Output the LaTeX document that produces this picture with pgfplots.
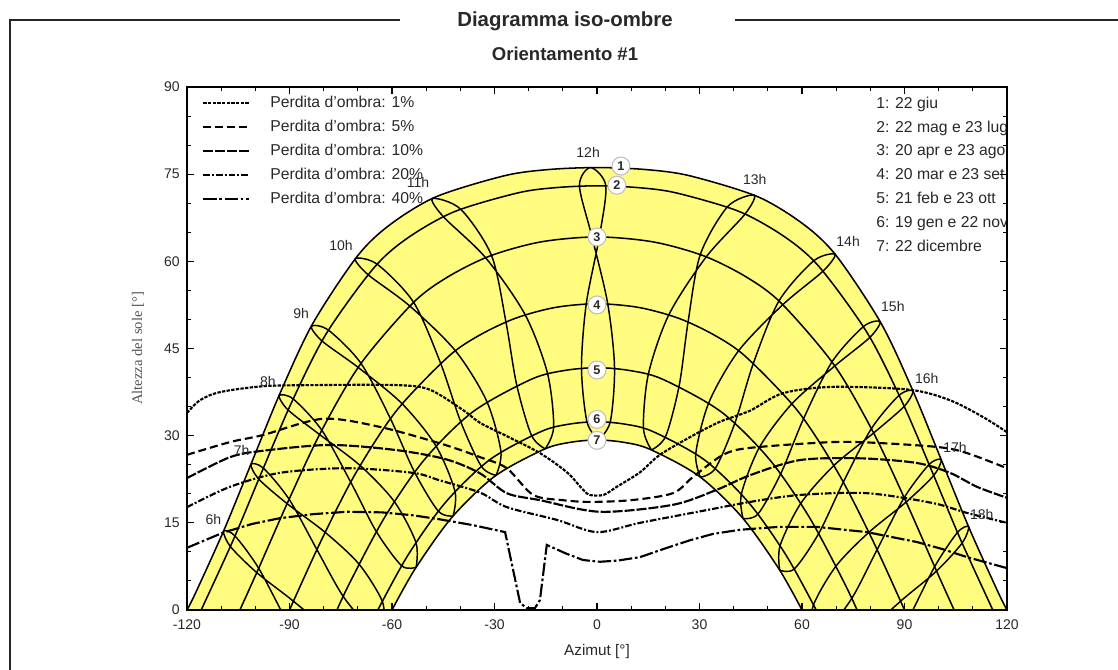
\documentclass[border=0pt]{standalone}
\usepackage{fontspec}
\setmainfont{Liberation Sans}
\newfontfamily\serifnt{Liberation Serif}
\usepackage{pgfplots}
\pgfplotsset{compat=1.18}
\definecolor{yel}{RGB}{255,252,128}
\definecolor{txt}{RGB}{40,40,40}
\begin{document}
\begin{tikzpicture}[x=0.75pt,y=0.75pt]
\path[use as bounding box] (0,0) rectangle (1118,670);
\coordinate (axpos) at (187,60);
\draw[line width=1.3pt, black!85] (400,650) -- (10,650) -- (10,-10);
\draw[line width=1.3pt, black!85] (735,650) -- (1130,650);
\node[font=\bfseries\fontsize{15.3}{18}\selectfont, text=txt] at (565,649) {Diagramma iso-ombre};
\node[font=\bfseries\fontsize{13.9}{16}\selectfont, text=txt] at (565,616) {Orientamento \#1};
\begin{axis}[
  at={(axpos)}, anchor=south west, scale only axis,
  width=615pt, height=392.25pt,
  xmin=-120, xmax=120, ymin=0, ymax=90,
  xtick={-120,-90,...,120}, ytick={0,15,...,90},
  minor x tick num=2, minor y tick num=2,
  tick align=inside, xtick pos=both, ytick pos=both,
  major tick length=5pt, minor tick length=3pt,
  axis line style={line width=1.8pt},
  tick style={line width=0.8pt, black},
  axis on top,
  /pgf/number format/assume math mode=true,
  tick label style={font=\fontsize{10.5}{12}\selectfont, text=txt},
  xticklabel style={yshift=-4pt},
  yticklabel style={xshift=-2pt},
  xlabel={Azimut [°]}, ylabel={\serifnt Altezza del sole [°]},
  xlabel style={at={(axis description cs:0.5,-0.0803)}, anchor=center, font=\fontsize{11.5}{13}\selectfont, text=txt},
  ylabel style={at={(axis description cs:-0.0598,0.5)}, anchor=center, font=\fontsize{11}{13}\selectfont, text=txt!80},
  legend style={draw=none, fill=none, at={(axis description cs:0.0183,0.985)}, anchor=north west, inner sep=0pt,
    font=\fontsize{11.8}{14}\selectfont, text=txt, row sep=6.5pt,
    nodes={inner sep=0pt, text height=9pt, text depth=2.5pt},
    /tikz/every odd column/.style={column sep=15pt}},
  legend cell align=left,
  legend image code/.code={\draw[#1] (0pt,0pt) -- (34.5pt,0pt);},
  hl/.style={black, line width=1.1pt, smooth, forget plot},
  sp/.style={black, line width=1.15pt, smooth, forget plot},
]
% yellow band between 22 June and 22 December
\addplot[fill=yel, draw=none, smooth, forget plot] coordinates {(-120,0) (-117.45,2.99) (-109.03,13.95) (-101.02,25.47) (-92.77,37.30) (-83.26,49.22) (-70.21,60.84) (-60.67,66.27) (-47.1,71.11) (-27.02,74.74) (-14.13,75.80) (0,76.14) (14.13,75.80) (27.02,74.74) (47.1,71.11) (60.67,66.27) (70.21,60.84) (83.26,49.22) (92.77,37.30) (101.02,25.47) (109.03,13.95) (117.45,2.99) (120,0)} \closedcycle;
\addplot[fill=white, draw=none, smooth, forget plot] coordinates {(-60,0) (-53.20,7.11) (-42.44,15.96) (-29.90,23.02) (-15.55,27.64) (-7.86,28.85) (0,29.26) (7.86,28.85) (15.55,27.64) (29.90,23.02) (42.44,15.96) (53.20,7.11) (60,0)} \closedcycle;
% sun paths
\addplot[sp] coordinates {(-120,0) (-117.45,2.99) (-109.03,13.95) (-101.02,25.47) (-92.77,37.30) (-83.26,49.22) (-70.21,60.84) (-60.67,66.27) (-47.1,71.11) (-27.02,74.74) (-14.13,75.80) (0,76.14) (14.13,75.80) (27.02,74.74) (47.1,71.11) (60.67,66.27) (70.21,60.84) (83.26,49.22) (92.77,37.30) (101.02,25.47) (109.03,13.95) (117.45,2.99) (120,0)};
\addplot[sp] coordinates {(-115.85,0) (-106.40,12.13) (-98.10,23.78) (-89.42,35.68) (-79.25,47.54) (-65.25,58.91) (-55.24,64.09) (-41.64,68.57) (-23.07,71.79) (-11.90,72.69) (0,73.0) (11.90,72.69) (23.07,71.79) (41.64,68.57) (55.24,64.09) (65.25,58.91) (79.25,47.54) (89.42,35.68) (98.10,23.78) (106.40,12.13) (115.85,0)};
\addplot[sp] coordinates {(-104.52,0) (-99.20,6.94) (-90.30,18.82) (-80.75,30.70) (-69.34,42.22) (-54.03,52.74) (-43.88,57.24) (-31.43,60.90) (-16.56,63.33) (0,64.2) (16.56,63.33) (31.43,60.90) (43.88,57.24) (54.03,52.74) (69.34,42.22) (80.75,30.70) (90.30,18.82) (99.20,6.94) (104.52,0)};
\addplot[sp] coordinates {(-90,0) (-80.78,11.88) (-70.72,23.44) (-58.78,34.23) (-43.61,43.55) (-34.35,47.30) (-23.85,50.21) (-12.26,52.06) (0,52.7) (12.26,52.06) (23.85,50.21) (34.35,47.30) (43.61,43.55) (58.78,34.23) (70.72,23.44) (80.78,11.88) (90,0)};
\addplot[sp] coordinates {(-76.12,0) (-72.13,4.96) (-62.15,15.95) (-50.50,25.89) (-36.35,34.10) (-19.28,39.69) (-9.80,41.19) (0,41.7) (9.80,41.19) (19.28,39.69) (36.35,34.10) (50.50,25.89) (62.15,15.95) (72.13,4.96) (76.12,0)};
\addplot[sp] coordinates {(-64.15,0) (-55.40,9.37) (-44.37,18.50) (-31.40,25.85) (-16.40,30.70) (-8.30,31.97) (0,32.4) (8.30,31.97) (16.40,30.70) (31.40,25.85) (44.37,18.50) (55.40,9.37) (64.15,0)};
\addplot[sp] coordinates {(-60,0) (-53.20,7.11) (-42.44,15.96) (-29.90,23.02) (-15.55,27.64) (-7.86,28.85) (0,29.26) (7.86,28.85) (15.55,27.64) (29.90,23.02) (42.44,15.96) (53.20,7.11) (60,0)};
% hour lines (analemmas)
\addplot[hl] coordinates {(0.42,29.26) (-2.94,32.4) (-4.54,41.7) (-3.14,52.7) (0.68,64.2) (2.57,73.0) (-1.92,76.14) (-5.13,73.0) (-1.46,64.2) (3.14,52.7) (5.13,41.7) (3.89,32.4) (0.42,29.26)};
\addplot[hl] coordinates {(15.95,27.55) (13.59,31.30) (15.04,40.60) (21.04,50.82) (31.98,60.78) (43.34,68.15) (46.0,71.40) (38.24,69.42) (30.24,61.17) (26.66,49.60) (24.07,38.66) (20.11,29.91) (15.95,27.55)};
\addplot[hl] coordinates {(-15.15,27.73) (-19.21,30.10) (-23.52,38.78) (-26.66,49.60) (-30.88,61.02) (-39.94,68.99) (-48.2,70.82) (-45.04,67.72) (-32.62,60.63) (-21.04,50.82) (-14.49,40.72) (-12.69,31.49) (-15.15,27.73)};
\addplot[hl] coordinates {(30.26,22.86) (28.92,26.95) (32.76,35.72) (41.42,44.59) (54.40,52.55) (66.18,58.33) (69.67,61.21) (63.40,60.07) (53.24,53.16) (45.80,42.51) (40.41,32.26) (34.67,24.40) (30.26,22.86)};
\addplot[hl] coordinates {(-29.54,23.18) (-33.88,24.75) (-39.94,32.48) (-45.80,42.51) (-53.66,52.93) (-64.32,59.49) (-70.75,60.47) (-67.10,57.75) (-54.82,52.32) (-41.42,44.59) (-32.29,35.94) (-28.13,27.30) (-29.54,23.18)};
\addplot[hl] coordinates {(42.75,15.75) (42.26,19.97) (47.56,28.01) (57.09,35.52) (69.60,42.00) (79.86,46.91) (82.90,49.62) (78.02,48.79) (68.78,42.70) (60.47,32.94) (53.82,23.50) (47.16,16.55) (42.75,15.75)};
\addplot[hl] coordinates {(-42.13,16.17) (-46.48,17.03) (-53.44,23.77) (-60.47,32.94) (-69.08,42.44) (-78.64,48.17) (-83.62,48.82) (-80.48,46.29) (-69.90,41.74) (-57.09,35.52) (-47.18,28.28) (-41.58,20.45) (-42.13,16.17)};
\addplot[hl] coordinates {(53.47,6.86) (53.60,11.11) (59.69,18.38) (69.35,24.87) (80.95,30.46) (89.91,35.04) (92.48,37.70) (88.44,36.95) (80.31,31.21) (72.09,22.01) (64.93,13.21) (57.78,7.08) (53.47,6.86)};
\addplot[hl] coordinates {(-52.93,7.36) (-57.20,7.63) (-64.61,13.52) (-72.09,22.01) (-80.55,30.94) (-88.93,36.32) (-93.06,36.90) (-90.40,34.41) (-81.19,30.19) (-69.35,24.87) (-59.37,18.69) (-53.02,11.66) (-52.93,7.36)};
\addplot[hl] coordinates {(62.78,-3.27) (63.38,0.93) (69.97,7.57) (79.58,13.37) (90.48,18.58) (98.55,23.15) (100.75,25.86) (97.21,25.04) (89.91,19.34) (81.98,10.39) (74.58,2.01) (67.07,-3.50) (62.78,-3.27)};
\addplot[hl] coordinates {(-62.32,-2.71) (-66.56,-2.89) (-74.29,2.35) (-81.98,10.39) (-90.12,19.06) (-97.65,24.41) (-101.29,25.08) (-98.99,22.52) (-90.69,18.30) (-79.58,13.37) (-69.68,7.91) (-62.87,1.54) (-62.32,-2.71)};
\addplot[hl] coordinates {(71.2,-14.25) (72.04,-10.12) (79.17,-3.93) (88.85,1.51) (99.38,6.70) (106.85,11.52) (108.76,14.33) (105.51,13.35) (98.82,7.45) (91.15,-1.51) (83.52,-9.71) (75.67,-14.79) (71.2,-14.25)};
\addplot[hl] coordinates {(-70.73,-13.65) (-75.16,-14.14) (-83.25,-9.35) (-91.15,-1.51) (-99.02,7.18) (-105.95,12.74) (-109.30,13.57) (-107.29,10.91) (-99.58,6.43) (-88.85,1.51) (-78.90,-3.57) (-71.53,-9.47) (-70.73,-13.65)};
% iso-shade curves
\addplot[black, line width=1.6pt, smooth, dash pattern=on 2.5pt off 1pt] coordinates {(-120,33.9) (-116.2,36.1) (-110.3,37.5) (-97.8,38.5) (-83.1,38.7) (-58.5,38.7) (-48.9,37.9) (-39.2,34.4) (-34.2,32.2) (-26,29.8) (-16.7,27.0) (-8.8,23.7) (-4.1,20.7) (-2.1,19.8) (1.9,19.8) (5.8,21.2) (12.6,23.7) (18.4,26.7) (28,30.0) (36,32.4) (44.8,34.3) (54.4,37.3) (69,38.4) (91.6,37.9) (103.3,36.1) (113,33.2) (120,30.6)};
\addlegendentry{Perdita d'ombra: 1\%}
\addplot[black, line width=1.6pt, smooth, dash pattern=on 6pt off 3pt] coordinates {(-120,26.7) (-107.4,28.9) (-97.8,30.1) (-80.2,32.9) (-63.5,31.5) (-45,28.5) (-34.2,26.3) (-26.4,24.4) (-18.7,19.8) (-10,18.9) (-2.1,18.6) (10,18.9) (22.2,20.1) (28.1,22.9) (36.9,26.7) (44.8,27.9) (69,28.9) (83.7,28.7) (100.4,28.0) (108.3,27.0) (120,24.4)};
\addlegendentry{Perdita d'ombra: 5\%}
\addplot[black, line width=1.6pt, smooth, dash pattern=on 7.5pt off 1.5pt] coordinates {(-120,22.7) (-107.4,26.3) (-97.8,27.4) (-78.2,28.4) (-58.5,27.5) (-44,25.9) (-34.2,23.5) (-26.4,20.1) (-16.7,18.9) (0.9,16.9) (22.2,18.1) (35.1,20.7) (44.8,23.2) (59.4,25.8) (77,26.1) (93.6,25.3) (103.3,23.6) (111.2,21.2) (120,19.3)};
\addlegendentry{Perdita d'ombra: 10\%}
\addplot[black, line width=1.6pt, smooth, dash pattern=on 5pt off 1.5pt on 1.5pt off 1.5pt] coordinates {(-120,17.7) (-107.4,21.2) (-92.8,23.6) (-73.2,24.4) (-53.9,23.6) (-46,22.3) (-34.2,20.2) (-26.4,17.7) (-11.7,15.5) (0,13.4) (12.6,15.0) (32.2,17.2) (44.8,18.6) (59.4,19.8) (79,20.1) (98.3,18.4) (108.3,16.7) (120,15.0)};
\addlegendentry{Perdita d'ombra: 20\%}
\addplot[black, line width=1.6pt, dash pattern=on 10pt off 2pt on 2pt off 2pt] coordinates {(-120,10.7) (-109.5,13.3) (-101,14.8) (-92.8,15.8) (-83,16.5) (-73.2,16.9) (-63,16.8) (-53.9,16.3) (-46,15.6) (-36.3,14.6) (-26.9,13.4) (-22.5,1.2) (-20.5,0.3) (-18.2,0.3) (-16.7,1.7) (-14.7,11.2) (-9,9.7) (-4.1,8.6) (0.9,8.3) (6,8.5) (12.6,9.1) (20,10.6) (27.2,12.0) (34,13.1) (41.8,13.8) (53,14.3) (64.4,14.3) (79,13.4) (93.6,11.7) (101,10.5) (108.3,9.1) (120,7.2)};
\addlegendentry{Perdita d'ombra: 40\%}
% hour labels
\tikzset{hlab/.style={font=\fontsize{10.5}{12}\selectfont, text=txt, inner sep=0pt}}
\node[hlab] at (axis cs:-112.3,15.6) {6h};
\node[hlab] at (axis cs:-104.0,27.4) {7h};
\node[hlab] at (axis cs:-96.3,39.4) {8h};
\node[hlab] at (axis cs:-86.6,51.1) {9h};
\node[hlab] at (axis cs:-74.9,62.8) {10h};
\node[hlab] at (axis cs:-52.4,73.5) {11h};
\node[hlab] at (axis cs:-2.6,78.7) {12h};
\node[hlab] at (axis cs:46.2,74.0) {13h};
\node[hlab] at (axis cs:73.5,63.5) {14h};
\node[hlab] at (axis cs:86.6,52.3) {15h};
\node[hlab] at (axis cs:96.5,39.9) {16h};
\node[hlab] at (axis cs:104.8,28.0) {17h};
\node[hlab] at (axis cs:112.6,16.5) {18h};
% date circles
\tikzset{dlab/.style={circle, draw=black!25, line width=0.8pt, fill=white, inner sep=0pt, minimum size=13.5pt, font=\bfseries\fontsize{9.5}{11}\selectfont, text=txt}}
\node[dlab] at (axis cs:7.0,76.4) {1};
\node[dlab] at (axis cs:5.8,73.1) {2};
\node[dlab] at (axis cs:0,64.2) {3};
\node[dlab] at (axis cs:0,52.5) {4};
\node[dlab] at (axis cs:0,41.3) {5};
\node[dlab] at (axis cs:0,32.8) {6};
\node[dlab] at (axis cs:0,29.2) {7};
% date list
\tikzset{dtxt/.style={anchor=base west, inner sep=0pt, font=\fontsize{11.8}{14}\selectfont, text=txt}}
\node[dtxt] at (axis cs:81.66,86.30) {1: 22 giu};
\node[dtxt] at (axis cs:81.66,82.17) {2: 22 mag e 23 lug};
\node[dtxt] at (axis cs:81.66,78.21) {3: 20 apr e 23 ago};
\node[dtxt] at (axis cs:81.66,74.08) {4: 20 mar e 23 set};
\node[dtxt] at (axis cs:81.66,69.95) {5: 21 feb e 23 ott};
\node[dtxt] at (axis cs:81.66,65.82) {6: 19 gen e 22 nov};
\node[dtxt] at (axis cs:81.66,61.69) {7: 22 dicembre};
\end{axis}
\end{tikzpicture}
\end{document}
